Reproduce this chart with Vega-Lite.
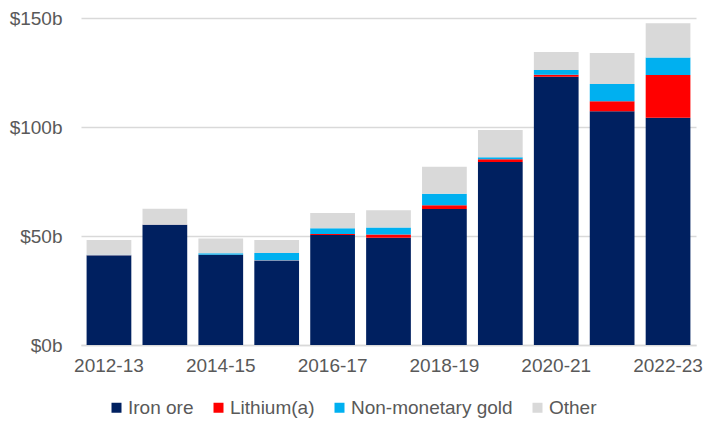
{
  "$schema": "https://vega.github.io/schema/vega-lite/v6.json",
  "width": 615,
  "height": 327,
  "autosize": {"type": "none"},
  "padding": {"left": 81, "top": 18, "right": 8, "bottom": 77},
  "background": "white",
  "config": {
    "view": {"stroke": null},
    "font": "Liberation Sans",
    "axis": {"labelFont": "Liberation Sans", "labelColor": "#595959", "labelFontSize": 19},
    "legend": {"labelFont": "Liberation Sans", "labelColor": "#595959", "labelFontSize": 19}
  },
  "data": {
    "values": [
      {"year": "2012-13", "type": "Iron ore", "value": 41.0},
      {"year": "2012-13", "type": "Lithium(a)", "value": 0.2},
      {"year": "2012-13", "type": "Non-monetary gold", "value": 0.2},
      {"year": "2012-13", "type": "Other", "value": 6.8},
      {"year": "2013-14", "type": "Iron ore", "value": 55.0},
      {"year": "2013-14", "type": "Lithium(a)", "value": 0.2},
      {"year": "2013-14", "type": "Non-monetary gold", "value": 0.1},
      {"year": "2013-14", "type": "Other", "value": 7.2},
      {"year": "2014-15", "type": "Iron ore", "value": 41.3},
      {"year": "2014-15", "type": "Lithium(a)", "value": 0.1},
      {"year": "2014-15", "type": "Non-monetary gold", "value": 0.7},
      {"year": "2014-15", "type": "Other", "value": 6.8},
      {"year": "2015-16", "type": "Iron ore", "value": 38.5},
      {"year": "2015-16", "type": "Lithium(a)", "value": 0.3},
      {"year": "2015-16", "type": "Non-monetary gold", "value": 3.4},
      {"year": "2015-16", "type": "Other", "value": 6.0},
      {"year": "2016-17", "type": "Iron ore", "value": 50.5},
      {"year": "2016-17", "type": "Lithium(a)", "value": 0.4},
      {"year": "2016-17", "type": "Non-monetary gold", "value": 2.6},
      {"year": "2016-17", "type": "Other", "value": 7.0},
      {"year": "2017-18", "type": "Iron ore", "value": 49.2},
      {"year": "2017-18", "type": "Lithium(a)", "value": 1.5},
      {"year": "2017-18", "type": "Non-monetary gold", "value": 3.2},
      {"year": "2017-18", "type": "Other", "value": 7.9},
      {"year": "2018-19", "type": "Iron ore", "value": 62.4},
      {"year": "2018-19", "type": "Lithium(a)", "value": 1.7},
      {"year": "2018-19", "type": "Non-monetary gold", "value": 5.3},
      {"year": "2018-19", "type": "Other", "value": 12.4},
      {"year": "2019-20", "type": "Iron ore", "value": 84.0},
      {"year": "2019-20", "type": "Lithium(a)", "value": 1.2},
      {"year": "2019-20", "type": "Non-monetary gold", "value": 0.9},
      {"year": "2019-20", "type": "Other", "value": 12.5},
      {"year": "2020-21", "type": "Iron ore", "value": 123.0},
      {"year": "2020-21", "type": "Lithium(a)", "value": 1.0},
      {"year": "2020-21", "type": "Non-monetary gold", "value": 2.2},
      {"year": "2020-21", "type": "Other", "value": 8.2},
      {"year": "2021-22", "type": "Iron ore", "value": 107.2},
      {"year": "2021-22", "type": "Lithium(a)", "value": 4.6},
      {"year": "2021-22", "type": "Non-monetary gold", "value": 7.9},
      {"year": "2021-22", "type": "Other", "value": 14.2},
      {"year": "2022-23", "type": "Iron ore", "value": 104.3},
      {"year": "2022-23", "type": "Lithium(a)", "value": 19.6},
      {"year": "2022-23", "type": "Non-monetary gold", "value": 8.0},
      {"year": "2022-23", "type": "Other", "value": 15.7}
    ]
  },
  "mark": {"type": "bar"},
  "encoding": {
    "x": {
      "field": "year",
      "type": "nominal",
      "title": null,
      "scale": {"paddingInner": 0.2, "paddingOuter": 0.1},
      "axis": {
        "values": ["2012-13", "2014-15", "2016-17", "2018-19", "2020-21", "2022-23"],
        "labelAngle": 0,
        "ticks": false,
        "domain": true,
        "domainColor": "#d9d9d9",
        "domainWidth": 1.5,
        "labelPadding": 11,
        "grid": false
      }
    },
    "y": {
      "field": "value",
      "type": "quantitative",
      "title": null,
      "stack": "zero",
      "scale": {"domain": [0, 150], "nice": false},
      "axis": {
        "values": [0, 50, 100, 150],
        "labelExpr": "'$' + datum.value + 'b'",
        "ticks": false,
        "domain": false,
        "grid": true,
        "gridColor": "#d9d9d9",
        "gridWidth": 1.5,
        "labelPadding": 19
      }
    },
    "color": {
      "field": "type",
      "type": "nominal",
      "title": null,
      "scale": {
        "domain": ["Iron ore", "Lithium(a)", "Non-monetary gold", "Other"],
        "range": ["#002060", "#FF0000", "#00B0F0", "#D9D9D9"]
      },
      "legend": {
        "orient": "none",
        "direction": "horizontal",
        "legendX": 26,
        "legendY": 380,
        "symbolType": "square",
        "symbolSize": 100,
        "symbolStrokeWidth": 0,
        "labelOffset": 2,
        "labelLimit": 0,
        "columnPadding": 15
      }
    },
    "order": {"field": "type", "sort": "ascending"}
  }
}
